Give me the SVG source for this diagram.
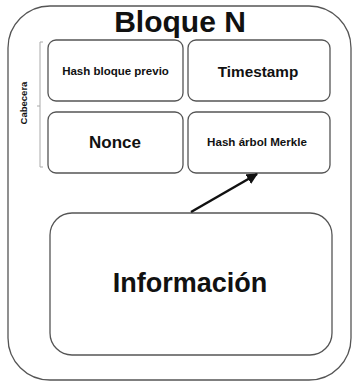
<svg xmlns="http://www.w3.org/2000/svg" width="352" height="382" viewBox="0 0 352 382">
<defs>
<style>
.box{fill:#fff;stroke:#555;stroke-width:1.3}
.t{font-family:"Liberation Sans",Arial,sans-serif;font-weight:bold;fill:#111;text-anchor:middle}
.br{fill:none;stroke:#aaa;stroke-width:1}
</style>
<marker id="ah" viewBox="0 0 10 10" refX="9" refY="5" markerWidth="4.5" markerHeight="4.5" orient="auto" markerUnits="strokeWidth">
<path d="M0,0 L10,5 L0,10 z" fill="#111"/>
</marker>
</defs>
<rect width="352" height="382" fill="#fff"/>
<g id="bloque">
<rect class="box" x="8" y="6" width="343" height="374" rx="42" stroke="#444"/>
<text class="t" x="180" y="32" font-size="30">Bloque N</text>
</g>
<g id="cabecera">
<path class="br" d="M43,42 L40,42 L40,167 L43,167 M40,106 L37,106"/>
<text class="t" x="0" y="0" font-size="9.5" transform="translate(27,103) rotate(-90)">Cabecera</text>
</g>
<g id="hash-previo">
<rect class="box" x="48" y="40" width="135" height="61" rx="8"/>
<text class="t" x="115.5" y="75" font-size="11.5">Hash bloque previo</text>
</g>
<g id="timestamp">
<rect class="box" x="188" y="40" width="142" height="61" rx="8"/>
<text class="t" x="258" y="77" font-size="15.3">Timestamp</text>
</g>
<g id="nonce">
<rect class="box" x="48" y="112" width="135" height="61" rx="8"/>
<text class="t" x="115" y="148" font-size="17">Nonce</text>
</g>
<g id="merkle">
<rect class="box" x="188" y="112" width="142" height="61" rx="8"/>
<text class="t" x="257" y="146" font-size="11.6">Hash árbol Merkle</text>
</g>
<g id="informacion">
<rect class="box" x="50" y="213" width="282" height="142" rx="22"/>
<text class="t" x="190" y="292" font-size="27">Información</text>
</g>
<g id="connectors">
<line x1="191" y1="212" x2="257" y2="174" stroke="#111" stroke-width="2.5" marker-end="url(#ah)"/>
</g>
</svg>
